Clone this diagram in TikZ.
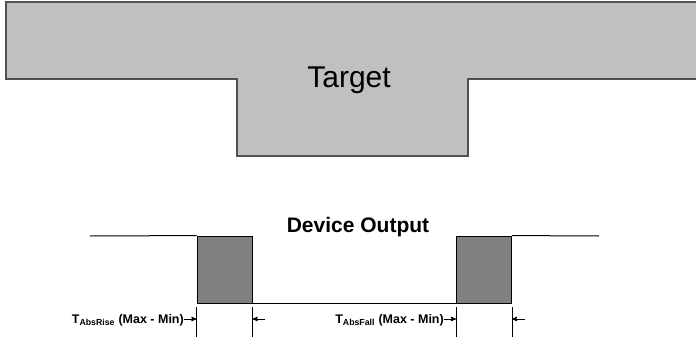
\documentclass[tikz,border=0pt]{standalone}
\usepackage{fontspec}
\setmainfont{Liberation Sans}
\usepackage{xcolor}
\usepackage{tikz}
\usetikzlibrary{arrows}
\definecolor{targetgray}{HTML}{C0C0C0}
\definecolor{targetedge}{HTML}{505050}
\definecolor{pulsegray}{HTML}{808080}
\tikzset{
    target_shape/.style = {fill=targetgray, draw=targetedge, line width=1.2pt},
    pulse_box/.style = {rectangle, draw=black, fill=pulsegray, line width=0.9pt, inner sep=0pt, minimum width=55pt, minimum height=67pt},
    signal_line/.style = {draw=black, line width=1pt},
    tick_line/.style = {draw=black, line width=0.8pt},
    dim_arrow/.style = {-stealth', line width=0.9pt},
    time_label/.style = {inner sep=0pt, font=\fontsize{12.5}{14}\selectfont\bfseries},
    title_label/.style = {inner sep=0pt, font=\fontsize{21}{24}\selectfont\bfseries}
}

\begin{document}
\begin{tikzpicture}[x=1pt, y=-1pt]
    \useasboundingbox (0,0) rectangle (696,337);

    % target
    \draw [target_shape] (6,2) -- (700,2) -- (700,79) -- (468,79) -- (468,156)
        -- (237,156) -- (237,79) -- (6,79) -- cycle;
    \node (target) at (349,80) {\fontsize{30}{34}\selectfont Target};

    % device output signal
    \node [title_label, anchor=base] (title) at (358,232) {Device Output};
    \node [pulse_box] (rise_box) at (224.5,269.5) {};
    \node [pulse_box] (fall_box) at (484,269.5) {};
    \coordinate (hi_start) at (90,236);
    \coordinate (hi_end) at (599,236);
    \draw [signal_line] (hi_start) -- (rise_box.north west);
    \draw [signal_line] (rise_box.south east) -- (fall_box.south west);
    \draw [signal_line] (fall_box.north east) -- (hi_end);

    % ticks
    \foreach \b/\a in {rise_box/south west, rise_box/south east, fall_box/south west, fall_box/south east}
        \draw [tick_line] ([yshift=-4pt]\b.\a) -- ++(0,30);

    % dimension labels
    \node [time_label, anchor=base east] (rise_lbl) at (184,323) {T\textsubscript{AbsRise} (Max - Min)};
    \node [time_label, anchor=base east] (fall_lbl) at (444,323) {T\textsubscript{AbsFall} (Max - Min)};
    \coordinate (rise_r) at (265,319);
    \coordinate (fall_r) at (525,319);
    \draw [dim_arrow] (rise_lbl.east |- rise_r) -- (rise_box.south west |- rise_r);
    \draw [dim_arrow] (rise_r) -- (rise_box.south east |- rise_r);
    \draw [dim_arrow] (fall_lbl.east |- fall_r) -- (fall_box.south west |- fall_r);
    \draw [dim_arrow] (fall_r) -- (fall_box.south east |- fall_r);
\end{tikzpicture}
\end{document}
